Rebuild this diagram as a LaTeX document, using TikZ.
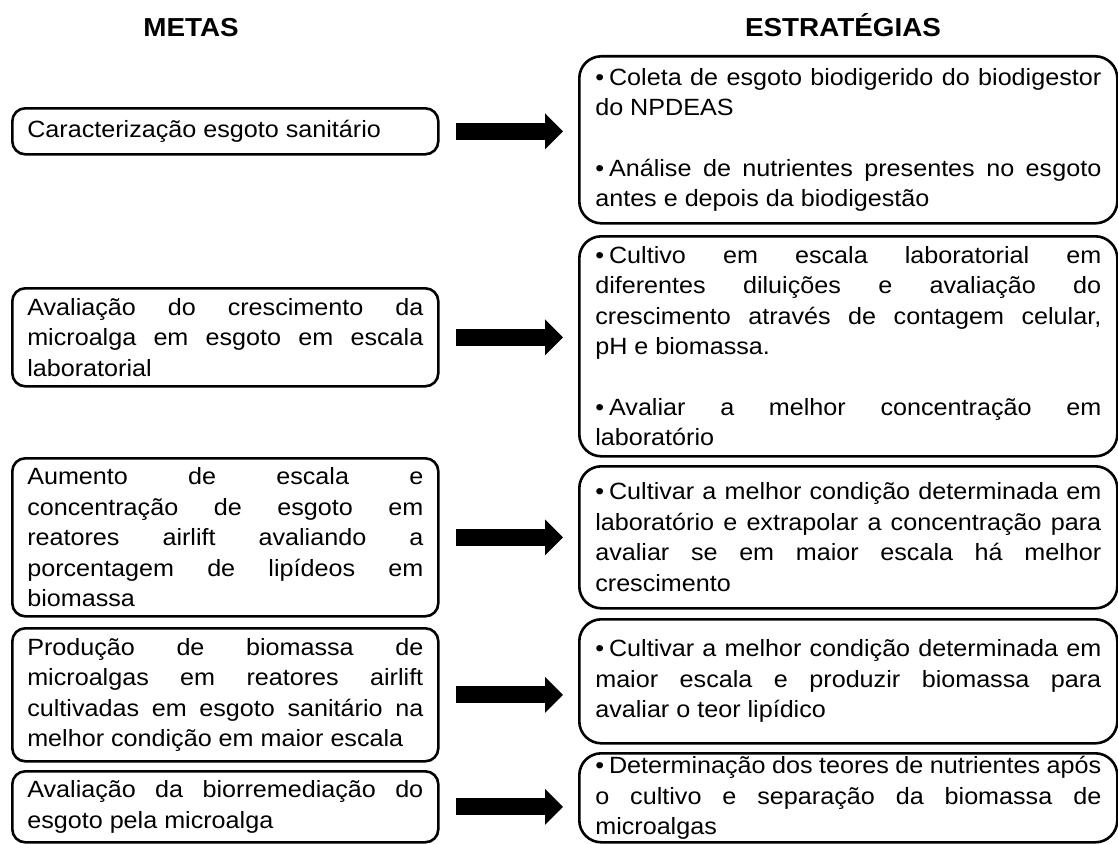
\documentclass[tikz,border=0pt]{standalone}
\usepackage{fontspec}
\setmainfont{Liberation Sans}[FakeStretch=1.07]
\usetikzlibrary{arrows.meta}
\hyphenpenalty=10000
\exhyphenpenalty=10000
\tolerance=10000
\newcommand{\bul}{•\hspace{5pt}}
\begin{document}
\begin{tikzpicture}[x=1pt,y=-1pt,
  txt/.style={font=\fontsize{23.5}{30.5}\selectfont},
  title/.style={font=\fontsize{26}{30}\selectfont\bfseries, anchor=base},
  meta/.style={txt, draw, line width=2.6pt, rounded corners=13pt, anchor=north west,
    text width=396pt, inner xsep=15pt, inner ysep=0pt, align=justify},
  strat/.style={txt, draw, line width=2.6pt, rounded corners=22pt, anchor=north west,
    text width=506pt, inner xsep=16pt, inner ysep=0pt, align=justify},
  arr/.style={line width=17pt, -{Triangle[width=35pt,length=18pt]},
    shorten <=16pt, shorten >=15pt}
]
\useasboundingbox (0,0) rectangle (1118,843);

\node[title] (tm) at (191,37) {METAS};
\node[title] (ts) at (843,37) {ESTRATÉGIAS};

\node[meta, minimum height=46pt] (m1) at (11,107) {Caracterização esgoto sanitário};
\node[meta, minimum height=98pt] (m2) at (11,287) {Avaliação do crescimento da\linebreak microalga em esgoto em escala\linebreak laboratorial};
\node[meta, minimum height=158pt] (m3) at (11,457) {Aumento de escala e\linebreak concentração de esgoto em\linebreak reatores airlift avaliando a\linebreak porcentagem de lipídeos em\linebreak biomassa};
\node[meta, minimum height=133pt] (m4) at (11,627) {Produção de biomassa de\linebreak microalgas em reatores airlift\linebreak cultivadas em esgoto sanitário na\linebreak melhor condição em maior escala};
\node[meta, minimum height=71pt] (m5) at (11,770) {Avaliação da biorremediação do\linebreak esgoto pela microalga};

\node[strat, minimum height=167pt] (s1) at (578,55) {\bul Coleta de esgoto biodigerido do biodigestor\linebreak do NPDEAS\par\vspace{30pt}\bul Análise de nutrientes presentes no esgoto\linebreak antes e depois da biodigestão};
\node[strat, minimum height=220pt] (s2) at (578,235) {\bul Cultivo em escala laboratorial em\linebreak diferentes diluições e avaliação do\linebreak crescimento através de contagem celular,\linebreak pH e biomassa.\par\vspace{30pt}\bul Avaliar a melhor concentração em\linebreak laboratório};
\node[strat, minimum height=142pt] (s3) at (578,465) {\bul Cultivar a melhor condição determinada em\linebreak laboratório e extrapolar a concentração para\linebreak avaliar se em maior escala há melhor\linebreak crescimento};
\node[strat, minimum height=124pt] (s4) at (578,618) {\bul Cultivar a melhor condição determinada em\linebreak maior escala e produzir biomassa para\linebreak avaliar o teor lipídico};
\node[strat, minimum height=89pt] (s5) at (578,752) {\bul Determinação dos teores de nutrientes após\linebreak o cultivo e separação da biomassa de\linebreak microalgas};

\draw[arr] (m1.east) -- (m1.east -| s1.west);
\draw[arr] (m2.east) -- (m2.east -| s2.west);
\draw[arr] (m3.east) -- (m3.east -| s3.west);
\draw[arr] (m4.east) -- (m4.east -| s4.west);
\draw[arr] (m5.east) -- (m5.east -| s5.west);
\end{tikzpicture}
\end{document}
